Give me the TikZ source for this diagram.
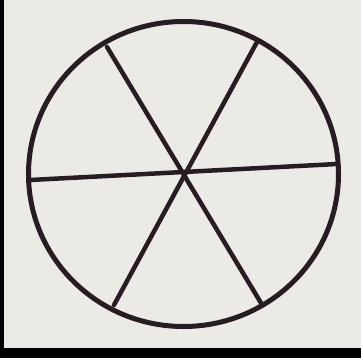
\documentclass[tikz,border=0pt]{standalone}
\definecolor{paper}{RGB}{236,234,231}
\definecolor{ink}{RGB}{38,28,34}
\begin{document}
\begin{tikzpicture}[x=1pt,y=-1pt,
  rim/.style={draw=ink,line width=5pt},
  spoke/.style={draw=ink,line width=4.5pt,line cap=round}]
\useasboundingbox (0,0) rectangle (361,358);
\fill[paper] (0,0) rectangle (361,358);
\fill[black] (0,0) rectangle (4,358);
\fill[black] (0,348) rectangle (361,358);
\coordinate (O) at (183.5,174);
\coordinate (L) at (30,180);
\coordinate (R) at (337,164);
\coordinate (TL) at (107,47);
\coordinate (BR) at (261,303);
\coordinate (TR) at (257,42);
\coordinate (BL) at (114,305);
\draw[rim] (O) ellipse [x radius=155, y radius=152.5];
\draw[spoke] (L) -- (R);
\draw[spoke] (TL) -- (BR);
\draw[spoke] (TR) -- (BL);
\end{tikzpicture}
\end{document}
